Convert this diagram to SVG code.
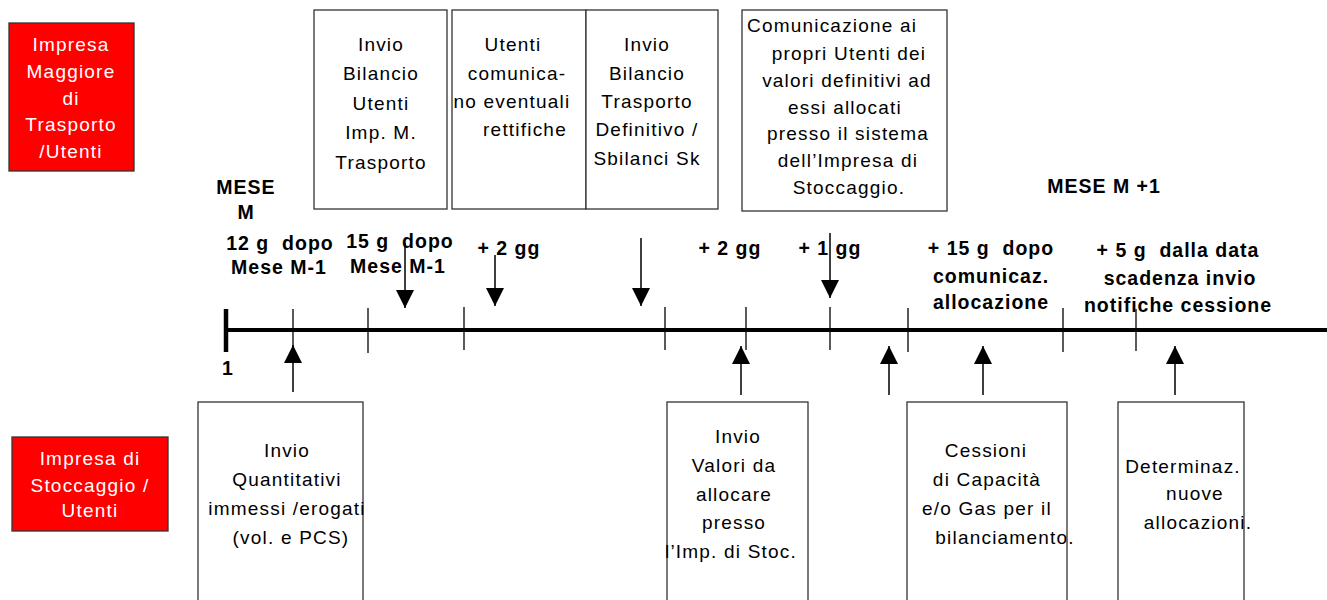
<svg xmlns="http://www.w3.org/2000/svg" width="1327" height="600" viewBox="0 0 1327 600">
<style>
 text{font-family:"Liberation Sans",Arial,sans-serif;}
 .t{font-size:19px;letter-spacing:1.2px;fill:#000;text-anchor:middle}
 .l{font-size:19px;letter-spacing:1.2px;fill:#000;text-anchor:start}
 .w{font-size:19px;letter-spacing:1.2px;fill:#fff;text-anchor:middle}
 .b{font-size:19.5px;font-weight:bold;letter-spacing:1px;fill:#000;text-anchor:middle}
 .box{fill:#fff;stroke:#333;stroke-width:1.3}
 .red{fill:#ff0000;stroke:#333;stroke-width:1.3}
 .tl{stroke:#000;stroke-width:4;fill:none}
 .tick{stroke:#000;stroke-width:1.3}
 .arr{stroke:#000;stroke-width:1.5;fill:none;marker-end:url(#ah)}
</style>
<defs>
 <marker id="ah" viewBox="0 0 18 18" refX="18" refY="9" markerWidth="18" markerHeight="18" markerUnits="userSpaceOnUse" orient="auto">
  <path d="M0,0 L18,9 L0,18 Z" fill="#000"/>
 </marker>
</defs>

<g id="lane-trasporto">
 <rect class="red" x="9" y="23" width="125" height="148"/>
 <text class="w" x="71" y="51">Impresa</text>
 <text class="w" x="71" y="78">Maggiore</text>
 <text class="w" x="71" y="105">di</text>
 <text class="w" x="71" y="131">Trasporto</text>
 <text class="w" x="71" y="158">/Utenti</text>
</g>

<g id="lane-stoccaggio">
 <rect class="red" x="12" y="437" width="156" height="94"/>
 <text class="w" x="90" y="465">Impresa di</text>
 <text class="w" x="90" y="492">Stoccaggio /</text>
 <text class="w" x="90" y="517">Utenti</text>
</g>

<g id="box-invio-bilancio-utenti">
 <rect class="box" x="314" y="10" width="133" height="199"/>
 <text class="t" x="381" y="51">Invio</text>
 <text class="t" x="381" y="80">Bilancio</text>
 <text class="t" x="381" y="110">Utenti</text>
 <text class="t" x="381" y="139">Imp. M.</text>
 <text class="t" x="381" y="169">Trasporto</text>
</g>

<g id="box-utenti-rettifiche">
 <rect class="box" x="452" y="10" width="134" height="199"/>
 <text class="t" x="513" y="51">Utenti</text>
 <text class="t" x="517" y="80">comunica-</text>
 <text class="t" x="512" y="108">no eventuali</text>
 <text class="t" x="525" y="136">rettifiche</text>
</g>

<g id="box-bilancio-definitivo">
 <rect class="box" x="586" y="10" width="132" height="199"/>
 <text class="t" x="647" y="51">Invio</text>
 <text class="t" x="647" y="80">Bilancio</text>
 <text class="t" x="647" y="108">Trasporto</text>
 <text class="t" x="647" y="136">Definitivo /</text>
 <text class="t" x="647" y="165">Sbilanci Sk</text>
</g>

<g id="box-comunicazione">
 <rect class="box" x="742" y="10" width="205" height="201"/>
 <text class="l" x="747" y="32">Comunicazione ai</text>
 <text class="t" x="849" y="60">propri Utenti dei</text>
 <text class="t" x="847" y="87">valori definitivi ad</text>
 <text class="t" x="845" y="114">essi allocati</text>
 <text class="t" x="848" y="140">presso il sistema</text>
 <text class="t" x="848" y="167">dell’Impresa di</text>
 <text class="t" x="849" y="194">Stoccaggio.</text>
</g>

<g id="box-invio-quantitativi">
 <rect class="box" x="198" y="402" width="165" height="210"/>
 <text class="t" x="287" y="457">Invio</text>
 <text class="t" x="287" y="486">Quantitativi</text>
 <text class="t" x="287" y="515">immessi /erogati</text>
 <text class="t" x="291" y="544">(vol. e PCS)</text>
</g>

<g id="box-invio-valori">
 <rect class="box" x="667" y="402" width="141" height="210"/>
 <text class="t" x="738" y="443">Invio</text>
 <text class="t" x="734" y="472">Valori da</text>
 <text class="t" x="734" y="501">allocare</text>
 <text class="t" x="734" y="529">presso</text>
 <text class="t" x="731" y="558">l’Imp. di Stoc.</text>
</g>

<g id="box-cessioni">
 <rect class="box" x="907" y="402" width="160" height="210"/>
 <text class="t" x="986" y="457">Cessioni</text>
 <text class="t" x="987" y="486">di Capacità</text>
 <text class="t" x="987" y="515">e/o Gas per il</text>
 <text class="t" x="1005" y="544">bilanciamento.</text>
</g>

<g id="box-determinaz">
 <rect class="box" x="1118" y="402" width="126" height="210"/>
 <text class="t" x="1183" y="473">Determinaz.</text>
 <text class="t" x="1195" y="500">nuove</text>
 <text class="t" x="1198" y="529">allocazioni.</text>
</g>

<g id="timeline">
 <line class="tl" x1="224" y1="330" x2="1327" y2="330"/>
 <line x1="226" y1="309" x2="226" y2="352" stroke="#000" stroke-width="4.5"/>
 <line class="tick" x1="293" y1="309" x2="293" y2="350"/>
 <line class="tick" x1="368" y1="308" x2="368" y2="353"/>
 <line class="tick" x1="464" y1="307" x2="464" y2="350"/>
 <line class="tick" x1="665" y1="307" x2="665" y2="350"/>
 <line class="tick" x1="746" y1="307" x2="746" y2="350"/>
 <line class="tick" x1="830" y1="307" x2="830" y2="350"/>
 <line class="tick" x1="908" y1="308" x2="908" y2="352"/>
 <line class="tick" x1="1063" y1="308" x2="1063" y2="352"/>
 <line class="tick" x1="1136" y1="309" x2="1136" y2="351"/>
</g>

<g id="timeline-labels">
 <text class="b" x="246" y="194">MESE</text>
 <text class="b" x="246" y="219">M</text>
 <text class="b" x="280" y="250" xml:space="preserve">12 g  dopo</text>
 <text class="b" x="279" y="274">Mese M-1</text>
 <text class="b" x="400" y="248" xml:space="preserve">15 g  dopo</text>
 <text class="b" x="398" y="273">Mese M-1</text>
 <text class="b" x="509" y="255">+ 2 gg</text>
 <text class="b" x="730" y="255">+ 2 gg</text>
 <text class="b" x="830" y="255">+ 1 gg</text>
 <text class="b" x="991" y="255" xml:space="preserve">+ 15 g  dopo</text>
 <text class="b" x="991" y="283">comunicaz.</text>
 <text class="b" x="991" y="309">allocazione</text>
 <text class="b" x="1104" y="193">MESE M +1</text>
 <text class="b" x="1178" y="257" xml:space="preserve">+ 5 g  dalla data</text>
 <text class="b" x="1180" y="285">scadenza invio</text>
 <text class="b" x="1178" y="312">notifiche cessione</text>
 <text class="b" x="222" y="375" style="text-anchor:start">1</text>
</g>

<g id="connectors">
 <line class="arr" x1="405" y1="243" x2="405" y2="308"/>
 <line class="arr" x1="495" y1="255" x2="495" y2="306"/>
 <line class="arr" x1="641" y1="238" x2="641" y2="306"/>
 <line class="arr" x1="830" y1="233" x2="830" y2="298"/>
 <line class="arr" x1="293" y1="392" x2="293" y2="345"/>
 <line class="arr" x1="741" y1="395" x2="741" y2="346"/>
 <line class="arr" x1="889" y1="395" x2="889" y2="346"/>
 <line class="arr" x1="983" y1="395" x2="983" y2="346"/>
 <line class="arr" x1="1175" y1="395" x2="1175" y2="346"/>
</g>
</svg>
